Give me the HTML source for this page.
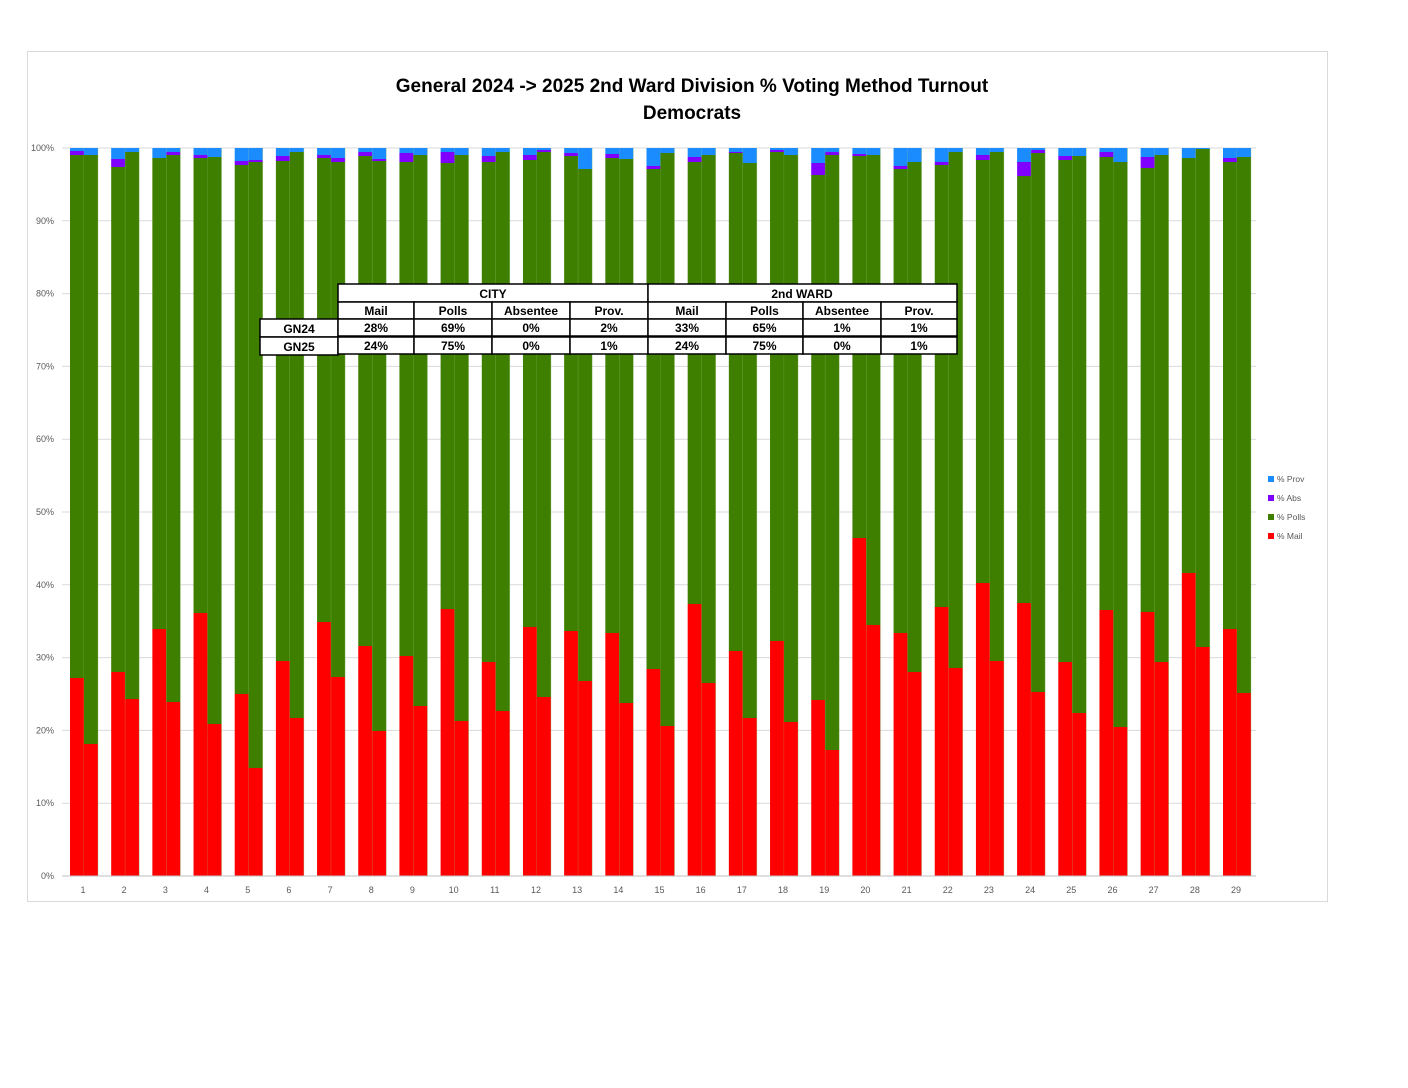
<!DOCTYPE html>
<html><head><meta charset="utf-8"><style>
body{margin:0;background:#fff;width:1408px;height:1088px;overflow:hidden;font-family:"Liberation Sans",sans-serif}
svg{position:absolute;left:0;top:0}
</style></head><body>
<svg id="s" width="1408" height="1088" xmlns="http://www.w3.org/2000/svg"></svg>
<script>
const s=document.getElementById('s');let h='';
h+='<rect x="27.5" y="51.5" width="1300" height="850" fill="#fff" stroke="#d9d9d9"/>';
h+='<text x="692" y="92" text-anchor="middle" font-size="19" font-weight="bold" fill="#000">General 2024 -&gt; 2025 2nd Ward Division % Voting Method Turnout</text>';
h+='<text x="692" y="119" text-anchor="middle" font-size="19" font-weight="bold" fill="#000">Democrats</text>';
const Y0=876,H=728;
for(let k=0;k<=10;k++){const y=Y0-H*k/10;h+=`<line x1="62" x2="1256" y1="${y}" y2="${y}" stroke="#d9d9d9"/>`;
h+=`<text x="54" y="${y+3}" text-anchor="end" font-size="9" fill="#595959">${k*10}%</text>`;}
const d=[[678,155,151],[744,155,155],[672,167,159],[699,152,152],[629,158,158],[702,155,152],[613,158,155],[724,157,157],[694,165,161],[768,162,160],[661,161,156],[718,152,152],[622,158,155],[677,162,158],[646,156,152],[731,161,159],[656,162,153],[706,155,155],[609,163,152],[721,155,155],[662,162,156],[711,152,152],[627,160,155],[697,152,150],[631,156,153],[681,169,169],[633,158,154],[703,159,159],[669,169,166],[726,153,153],[604,162,157],[683,155,155],[651,153,152],[718,163,163],[641,152,150],[722,155,155],[700,175,163],[750,155,152],[538,156,154],[625,155,155],[633,169,166],[672,162,162],[607,165,162],[668,152,152],[583,160,155],[661,152,152],[603,176,162],[692,153,150],[662,160,156],[713,156,156],[610,157,152],[727,162,162],[612,168,157],[662,155,155],[573,158,158],[647,149,149],[629,162,158],[693,157,157]];
for(let i=0;i<29;i++){const c=83+i*(1153/28);
h+=`<text x="${c}" y="893" text-anchor="middle" font-size="9" fill="#595959">${i+1}</text>`;
for(let j=0;j<2;j++){const v=d[i*2+j];const x=c-13+j*14;
h+=`<rect x="${x}" y="148" width="14" height="${v[2]-148}" fill="#1a8cff"/>`;
h+=`<rect x="${x}" y="${v[2]}" width="14" height="${v[1]-v[2]}" fill="#7f00ff"/>`;
h+=`<rect x="${x}" y="${v[1]}" width="14" height="${v[0]-v[1]}" fill="#3f7f00"/>`;
h+=`<rect x="${x}" y="${v[0]}" width="14" height="${876-v[0]}" fill="#ff0000"/>`;
h+=`<line x1="${x+14}" x2="${x+14}" y1="148" y2="876" stroke="#8fbf70" stroke-width="0.6" opacity="0.6"/>`;}}
h+='<line x1="62" x2="1256" y1="876" y2="876" stroke="#bfbfbf"/>';
const cx=[338,414,492,570,648,726,803,881,957];
const tr=(x,y,w,hh)=>`<rect x="${x}" y="${y}" width="${w}" height="${hh}" fill="#fff" stroke="#000" stroke-width="1.5"/>`;
const tx=(x,y,t)=>`<text x="${x}" y="${y}" text-anchor="middle" font-size="12" font-weight="bold" fill="#000">${t}</text>`;
h+=tr(338,284,310,18)+tr(648,284,309,18)+tx(493,298,'CITY')+tx(802,298,'2nd WARD');
const hd=['Mail','Polls','Absentee','Prov.','Mail','Polls','Absentee','Prov.'];
const r1=['28%','69%','0%','2%','33%','65%','1%','1%'],r2=['24%','75%','0%','1%','24%','75%','0%','1%'];
[[302,hd,null],[319,r1,'GN24'],[337,r2,'GN25']].forEach(([y,r,l])=>{
if(l){h+=tr(260,y,78,18)+tx(299,y+14,l);}
for(let k=0;k<8;k++){h+=tr(cx[k],y,cx[k+1]-cx[k],17)+tx((cx[k]+cx[k+1])/2,y+13,r[k]);}});
[['#1a8cff','% Prov',479],['#7f00ff','% Abs',498],['#3f7f00','% Polls',517],['#ff0000','% Mail',536]].forEach(([c,t,y])=>{
h+=`<rect x="1268" y="${y-3}" width="6" height="6" fill="${c}"/><text x="1277" y="${y+3}" font-size="8.5" fill="#595959">${t}</text>`;});
s.innerHTML=h;
</script>
</body></html>
